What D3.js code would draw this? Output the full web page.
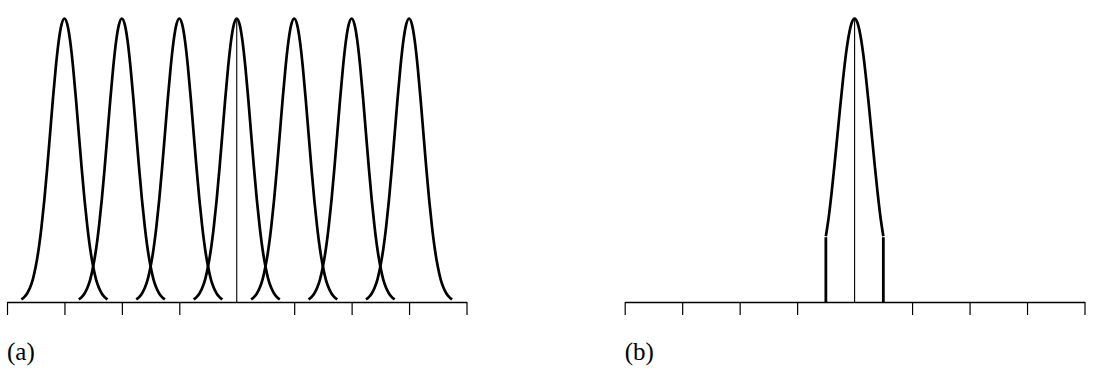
<!DOCTYPE html>
<html>
<head>
<meta charset="utf-8">
<script src="https://cdn.jsdelivr.net/npm/d3@7"></script>
<style>
  body { margin: 0; background: #fff; }
  .axis path, .axis line { stroke: #000; }
  .axis path { stroke-width: 1.4; }
  .axis line { stroke-width: 1.2; }
  .panel-label { font-family: "Liberation Serif", "DejaVu Serif", serif; font-size: 25px; fill: #000; }
</style>
</head>
<body>
<script>
'use strict';

// tick values on both axes (no tick at the centre)
const tickValues = [-4, -3, -2, -1, 1, 2, 3, 4];

// panel (a): centres of the seven bumps
const centersA = [-3, -2, -1, 0, 1, 2, 3];
// panel (a): bump shape, offset from centre (tick units) and relative height
const offsetsA = [-0.75, -0.7, -0.65, -0.6, -0.55, -0.5, -0.45, -0.4, -0.35, -0.3, -0.25, -0.2, -0.15, -0.1, -0.05, 0,
                  0.05, 0.1, 0.15, 0.2, 0.25, 0.3, 0.35, 0.4, 0.45, 0.5, 0.55, 0.6, 0.65, 0.7, 0.75];
const heightsA = [0.009, 0.017, 0.030, 0.050, 0.080, 0.125, 0.185, 0.264, 0.360, 0.472, 0.594, 0.717, 0.829, 0.920, 0.979, 1,
                  0.979, 0.920, 0.829, 0.717, 0.594, 0.472, 0.360, 0.264, 0.185, 0.125, 0.080, 0.050, 0.030, 0.017, 0.009];

// panel (b): single truncated bump at 0
const offsetsB = [-0.5, -0.45, -0.4, -0.35, -0.3, -0.25, -0.2, -0.15, -0.1, -0.05, 0,
                  0.05, 0.1, 0.15, 0.2, 0.25, 0.3, 0.35, 0.4, 0.45, 0.5];
const heightsB = [0.232, 0.300, 0.386, 0.483, 0.586, 0.690, 0.788, 0.875, 0.942, 0.985, 1,
                  0.985, 0.942, 0.875, 0.788, 0.690, 0.586, 0.483, 0.386, 0.300, 0.232];

const labels = ["(a)", "(b)"];

const width = 1095, height = 373;
const baseY = 302, peakY = 18.5;

const svg = d3.select('body').append('svg')
  .attr('width', width)
  .attr('height', height);

const yScale = d3.scaleLinear().domain([0, 1]).range([baseY, peakY]);
const xA = d3.scaleLinear().domain([-4, 4]).range([7, 466.5]);
const xB = d3.scaleLinear().domain([-4, 4]).range([624.7, 1084.5]);

function drawAxis(x) {
  svg.append('g')
    .attr('class', 'axis')
    .attr('transform', 'translate(0,' + baseY + ')')
    .call(d3.axisBottom(x).tickValues(tickValues).tickSizeInner(13).tickSizeOuter(0).tickFormat(''));
}

// thin line marking the centre
function drawCentre(x) {
  svg.append('line')
    .attr('x1', x(0)).attr('x2', x(0))
    .attr('y1', yScale(0)).attr('y2', yScale(1))
    .attr('stroke', '#000')
    .attr('stroke-width', 1.1);
}

function bumpLine(x, c) {
  return d3.line()
    .x((d) => x(c + d[0]))
    .y((d) => yScale(d[1]))
    .curve(d3.curveMonotoneX);
}

// panel (a)
drawAxis(xA);
let shapeA = offsetsA.map((o, i) => [o, heightsA[i]]);
centersA.forEach((c) => {
  svg.append('path')
    .datum(shapeA)
    .attr('fill', 'none')
    .attr('stroke', '#000')
    .attr('stroke-width', 2.7)
    .attr('stroke-linejoin', 'round')
    .attr('d', bumpLine(xA, c));
});
drawCentre(xA);

// panel (b)
drawAxis(xB);
let shapeB = offsetsB.map((o, i) => [o, heightsB[i]]);
svg.append('path')
  .datum(shapeB)
  .attr('fill', 'none')
  .attr('stroke', '#000')
  .attr('stroke-width', 2.7)
  .attr('d', bumpLine(xB, 0));

// vertical drops at the truncation points
[shapeB[0], shapeB[shapeB.length - 1]].forEach((d) => {
  svg.append('line')
    .attr('x1', xB(d[0])).attr('x2', xB(d[0]))
    .attr('y1', yScale(d[1]) + 1).attr('y2', yScale(0))
    .attr('stroke', '#000')
    .attr('stroke-width', 2.8);
});
drawCentre(xB);

// panel labels
svg.append('text')
  .attr('class', 'panel-label')
  .attr('x', xA(-4))
  .attr('y', 360)
  .text(labels[0]);

svg.append('text')
  .attr('class', 'panel-label')
  .attr('x', xB(-4))
  .attr('y', 360)
  .text(labels[1]);
</script>
</body>
</html>
